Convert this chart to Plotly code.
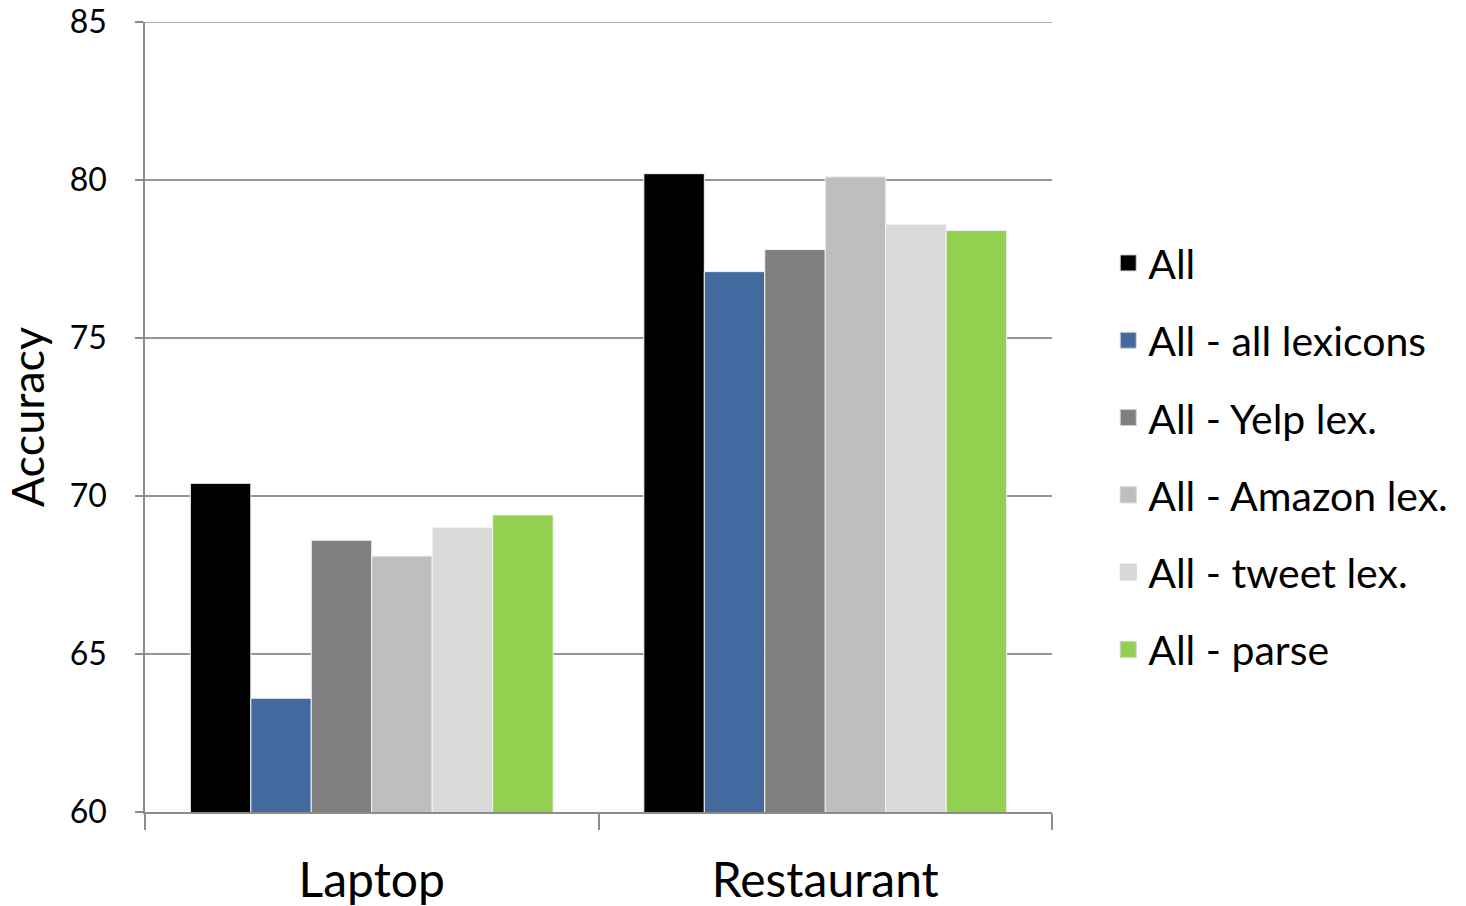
import plotly.graph_objects as go

categories = ["Laptop", "Restaurant"]
series_names = ["All", "All - all lexicons", "All - Yelp lex.", "All - Amazon lex.",
                "All - tweet lex.", "All - parse"]
all_feats = [70.4, 80.2]
all_minus_lexicons = [63.6, 77.1]
all_minus_yelp = [68.6, 77.8]
all_minus_amazon = [68.1, 80.1]
all_minus_tweet = [69.0, 78.6]
all_minus_parse = [69.4, 78.4]
y_ticks = [60, 65, 70, 75, 80, 85]

series_values = [all_feats, all_minus_lexicons, all_minus_yelp,
                 all_minus_amazon, all_minus_tweet, all_minus_parse]
colors = ["#000000", "#426a9e", "#7f7f7f", "#bebebe", "#d9d9d9", "#92d050"]

FONT = "Lato, Open Sans, sans-serif"
AXIS_GRAY = "#8c8c8c"
GRID_GRAY = "#969696"

fig = go.Figure()
for i, (name, vals, col) in enumerate(zip(series_names, series_values, colors)):
    # the bars themselves
    fig.add_trace(go.Bar(
        x=categories, y=vals, name=name,
        marker=dict(color=col, line=dict(color="#f2f2f2", width=1)),
        legendgroup=f"g{i}", showlegend=False,
    ))
    # legend key with a larger square swatch
    fig.add_trace(go.Scatter(
        x=[None], y=[None], mode="markers", name=name,
        marker=dict(symbol="square", size=16, color=col,
                    line=dict(color="#d0d0d0", width=1)),
        legendgroup=f"g{i}", showlegend=True, hoverinfo="skip",
    ))

# gridline along the top of the value range
fig.add_shape(type="line", xref="paper", x0=0, x1=1, yref="y", y0=max(y_ticks), y1=max(y_ticks),
              line=dict(color=GRID_GRAY, width=1.5), layer="below")

fig.update_layout(
    width=1466, height=906,
    margin=dict(l=145, r=414, t=22, b=94, autoexpand=False),
    paper_bgcolor="white", plot_bgcolor="white",
    barmode="group", bargap=0.2, bargroupgap=0,
    font=dict(family=FONT, color="#000000"),
    legend=dict(
        x=1.062, y=0.737, xanchor="left", yanchor="top",
        font=dict(size=41, family=FONT, color="#000000"),
        tracegroupgap=21, itemsizing="trace", itemwidth=30,
    ),
    showlegend=True,
)
fig.update_yaxes(
    range=[60, 85], tickvals=y_ticks,
    showgrid=True, gridcolor=GRID_GRAY, gridwidth=1.5,
    showline=True, linecolor=AXIS_GRAY, linewidth=1.5,
    ticks="outside", ticklen=8, tickcolor=AXIS_GRAY, tickwidth=1.5,
    tickfont=dict(size=32, family=FONT, color="#000000"),
    ticklabelstandoff=22, automargin=False,
    zeroline=False,
    title=dict(text="Accuracy", font=dict(size=45, family=FONT, color="#000000"), standoff=12),
)
fig.update_xaxes(
    showline=True, linecolor=AXIS_GRAY, linewidth=1.5,
    ticks="outside", tickson="boundaries", ticklen=16, tickcolor=AXIS_GRAY, tickwidth=1.5,
    tickfont=dict(size=48, family=FONT, color="#000000"),
    ticklabelstandoff=26, automargin=False,
)

fig.write_html("out.html")
